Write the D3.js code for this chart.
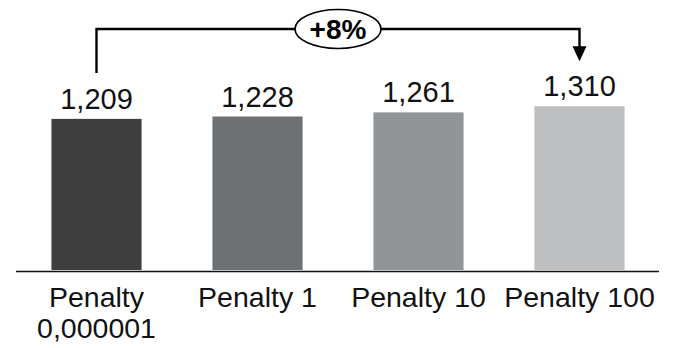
<!DOCTYPE html>
<html>
<head>
<meta charset="utf-8">
<script src="https://cdn.jsdelivr.net/npm/d3@7"></script>
<style>
  html, body { margin: 0; padding: 0; background: #fff; }
  svg { display: block; }
  text { font-family: "Liberation Sans", Arial, Helvetica, sans-serif; }
</style>
</head>
<body>
<svg id="chart" width="673" height="348"></svg>
<script>
// Penalty settings and their resulting values
const categories = ["Penalty 0,000001", "Penalty 1", "Penalty 10", "Penalty 100"];
const labelLines = [["Penalty", "0,000001"], ["Penalty 1"], ["Penalty 10"], ["Penalty 100"]];
const values = [1209, 1228, 1261, 1310];
const valueLabels = ["1,209", "1,228", "1,261", "1,310"];
const colors = ["#3e3e3e", "#6e7174", "#929598", "#bdbfc1"];
const changeLabel = "+8%";

const svg = d3.select("#chart");
const baseY = 270;

const x = d3.scaleBand()
  .domain(categories)
  .range([16, 660])
  .paddingInner(0.44)
  .paddingOuter(0.22);

const y = d3.scaleLinear()
  .domain([0, 1400])
  .range([baseY, 95]);

// bars
svg.append("g")
  .selectAll("rect")
  .data(values)
  .join("rect")
  .attr("x", (d, i) => x(categories[i]))
  .attr("y", d => y(d))
  .attr("width", x.bandwidth())
  .attr("height", d => baseY - y(d))
  .attr("fill", (d, i) => colors[i]);

// value labels above bars
svg.append("g")
  .selectAll("text")
  .data(values)
  .join("text")
  .attr("x", (d, i) => x(categories[i]) + x.bandwidth() / 2)
  .attr("y", d => y(d) - 10)
  .attr("text-anchor", "middle")
  .attr("font-size", 29)
  .attr("fill", "#111")
  .text((d, i) => valueLabels[i]);

// baseline
svg.append("line")
  .attr("x1", 16).attr("x2", 659)
  .attr("y1", baseY + 1.5).attr("y2", baseY + 1.5)
  .attr("stroke", "#111")
  .attr("stroke-width", 1.6);

// category labels
const cat = svg.append("g")
  .selectAll("text")
  .data(categories)
  .join("text")
  .attr("text-anchor", "middle")
  .attr("font-size", 28.5)
  .attr("fill", "#111")
  .attr("x", d => x(d) + x.bandwidth() / 2)
  .attr("y", 307);
cat.selectAll("tspan")
  .data((d, i) => labelLines[i])
  .join("tspan")
  .attr("x", function () { return d3.select(this.parentNode).attr("x"); })
  .attr("dy", (d, j) => j === 0 ? 0 : 30.5)
  .text(d => d);

// change bracket from the first bar to the last
const first = 0, last = values.length - 1;
const xa = x(categories[first]) + x.bandwidth() / 2;
const xb = x(categories[last]) + x.bandwidth() / 2;
const topY = 29;
const capH = 21;
const ya = y(values[first]) - 10 - capH - 15;
const yb = y(values[last]) - 10 - capH - 14;
const headH = 15, headW = 7;

svg.append("path")
  .attr("d", `M${xa},${ya} V${topY} H${xb} V${yb - headH + 1}`)
  .attr("fill", "none")
  .attr("stroke", "#000")
  .attr("stroke-width", 2.4);

svg.append("path")
  .attr("d", `M${xb - headW},${yb - headH} L${xb + headW},${yb - headH} L${xb},${yb} Z`)
  .attr("fill", "#000");

const cx = (xa + xb) / 2;
svg.append("ellipse")
  .attr("cx", cx).attr("cy", topY)
  .attr("rx", 43).attr("ry", 19.5)
  .attr("fill", "#fff")
  .attr("stroke", "#000")
  .attr("stroke-width", 1.6);

svg.append("text")
  .attr("x", cx).attr("y", topY + 10)
  .attr("text-anchor", "middle")
  .attr("font-size", 28)
  .attr("font-weight", "bold")
  .attr("fill", "#000")
  .text(changeLabel);
</script>
</body>
</html>
